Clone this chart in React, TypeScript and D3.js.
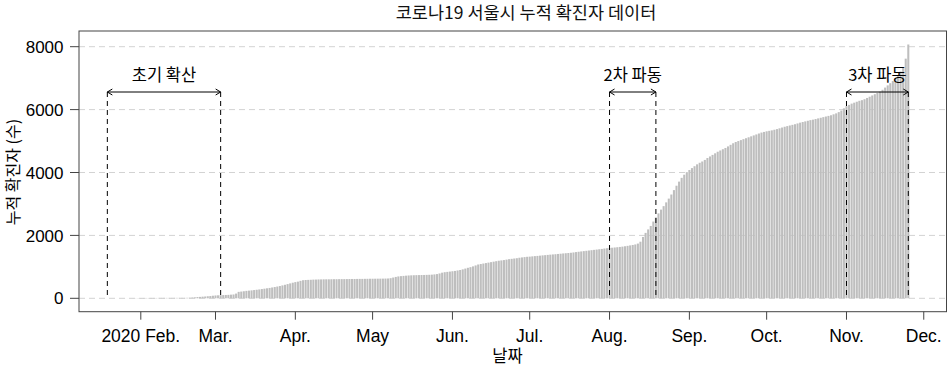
import React from "react";
import * as d3 from "d3";

// 서울시 누적 확진자 (일별, 그림에서 읽은 추정값)
const jan = [0, 0, 0, 0, 0, 1, 1, 1, 1, 1, 3, 5, 7]; // from Jan 19
const feb = [8, 10, 11, 11, 11, 11, 11, 13, 13, 13, 13, 13, 13, 14, 14, 14, 14, 14, 16, 19, 25, 31, 40, 45, 52, 58, 65, 72, 82];
const mar = [90, 95, 99, 103, 106, 110, 116, 122, 150, 205, 214, 224, 236, 244, 252, 262, 272, 282, 294, 306, 318, 330, 344, 358, 374, 390, 410, 430, 452, 474, 496];
const apr = [515, 530, 555, 575, 582, 586, 589, 594, 596, 600, 601, 603, 604, 604, 606, 607, 607, 609, 610, 610, 611, 613, 614, 614, 616, 617, 617, 619, 620, 622];
const may = [622, 623, 624, 625, 626, 628, 630, 640, 660, 680, 695, 705, 712, 720, 726, 730, 733, 736, 738, 740, 742, 745, 748, 752, 760, 770, 790, 815, 830, 840, 850];
const jun = [860, 870, 885, 900, 920, 945, 970, 990, 1015, 1045, 1075, 1090, 1105, 1120, 1135, 1150, 1165, 1180, 1195, 1205, 1215, 1230, 1245, 1255, 1265, 1275, 1290, 1300, 1310, 1320];
const jul = [1325, 1333, 1341, 1348, 1356, 1365, 1372, 1380, 1388, 1395, 1402, 1410, 1418, 1426, 1433, 1440, 1448, 1458, 1470, 1480, 1490, 1500, 1510, 1520, 1530, 1540, 1550, 1560, 1570, 1582, 1592];
const aug = [1600, 1608, 1616, 1624, 1633, 1643, 1655, 1668, 1682, 1696, 1712, 1740, 1800, 1950, 2080, 2190, 2300, 2440, 2570, 2700, 2820, 2930, 3050, 3170, 3300, 3440, 3580, 3710, 3830, 3930, 4010];
const sep = [4080, 4140, 4200, 4260, 4310, 4350, 4400, 4460, 4510, 4560, 4610, 4660, 4700, 4740, 4780, 4830, 4880, 4930, 4970, 5000, 5030, 5060, 5090, 5120, 5150, 5180, 5210, 5240, 5270, 5290];
const oct = [5310, 5325, 5340, 5360, 5380, 5405, 5430, 5455, 5475, 5495, 5515, 5535, 5560, 5585, 5605, 5625, 5645, 5665, 5680, 5700, 5720, 5740, 5760, 5780, 5800, 5820, 5850, 5880, 5920, 5970, 6040];
const nov = [6110, 6150, 6190, 6220, 6250, 6280, 6300, 6330, 6370, 6410, 6450, 6490, 6530, 6570, 6630, 6700, 6770, 6840, 6910, 7000, 7100, 7210, 7340, 7620, 8070];

const months = [
  { m: 0, first: 19, vals: jan },
  { m: 1, first: 1, vals: feb },
  { m: 2, first: 1, vals: mar },
  { m: 3, first: 1, vals: apr },
  { m: 4, first: 1, vals: may },
  { m: 5, first: 1, vals: jun },
  { m: 6, first: 1, vals: jul },
  { m: 7, first: 1, vals: aug },
  { m: 8, first: 1, vals: sep },
  { m: 9, first: 1, vals: oct },
  { m: 10, first: 1, vals: nov },
];

const tickMonths = [1, 2, 3, 4, 5, 6, 7, 8, 9, 10, 11];
const tickLabels = ["2020 Feb.", "Mar.", "Apr.", "May", "Jun.", "Jul.", "Aug.", "Sep.", "Oct.", "Nov.", "Dec."];
const yTicks = [0, 2000, 4000, 6000, 8000];

const waveLabels = ["초기 확산", "2차 파동", "3차 파동"];
const waveStart = ["2020-01-19", "2020-08-01", "2020-11-01"];
const waveEnd = ["2020-03-03", "2020-08-19", "2020-11-25"];

const korean = "'Noto Sans CJK KR', 'Noto Sans', sans-serif";
const latin = "'Liberation Sans', Arial, sans-serif";

export default function App() {
  const width = 950;
  const height = 369;
  const plot = { left: 79, right: 946.5, top: 31, bottom: 311.7 };

  const data = months.flatMap(mo =>
    mo.vals.map((v, i) => ({ date: new Date(Date.UTC(2020, mo.m, mo.first + i)), value: v }))
  );

  const x = d3
    .scaleUtc()
    .domain([new Date(Date.UTC(2020, 0, 8)), new Date(Date.UTC(2020, 11, 9, 20))])
    .range([plot.left, plot.right]);

  const y = d3.scaleLinear().domain([0, 8000]).range([298.3, 46.7]);

  const step = x(new Date(Date.UTC(2020, 1, 2))) - x(new Date(Date.UTC(2020, 1, 1)));
  const barW = step * 0.8;
  const arrowY = 92;

  const parse = d3.utcParse("%Y-%m-%d");

  const arrowHead = (px: number, dir: number) =>
    `M${px + dir * 5},${arrowY - 3} L${px},${arrowY} L${px + dir * 5},${arrowY + 3}`;

  return (
    <svg width={width} height={height} style={{ position: "absolute", left: 0, top: 0, background: "#fff" }}>
      <text x={526} y={19} textAnchor="middle" fontFamily={korean} fontSize={17.5} fill="#111">
        코로나19 서울시 누적 확진자 데이터
      </text>

      {/* grid */}
      {yTicks.map(t => (
        <line key={"g" + t} x1={plot.left} x2={plot.right} y1={y(t)} y2={y(t)}
          stroke="#d3d3d3" strokeDasharray="6,4" />
      ))}

      {/* bars */}
      {data.map((d, i) => (
        <rect key={i} x={x(d.date) - barW / 2} y={y(d.value)} width={barW}
          height={Math.max(0, y(0) - y(d.value))} fill="#bebebe" />
      ))}

      {/* wave markers */}
      {waveLabels.map((lab, i) => {
        const x1 = x(parse(waveStart[i])!);
        const x2 = x(parse(waveEnd[i])!);
        return (
          <g key={lab}>
            <line x1={x1} x2={x1} y1={arrowY} y2={y(0)} stroke="#000" strokeDasharray="5,4" />
            <line x1={x2} x2={x2} y1={arrowY} y2={y(0)} stroke="#000" strokeDasharray="5,4" />
            <line x1={x1} x2={x2} y1={arrowY} y2={arrowY} stroke="#000" />
            <path d={arrowHead(x1, 1)} fill="none" stroke="#000" />
            <path d={arrowHead(x2, -1)} fill="none" stroke="#000" />
            <text x={(x1 + x2) / 2} y={81} textAnchor="middle" fontFamily={korean} fontSize={16.5} fill="#000">
              {lab}
            </text>
          </g>
        );
      })}

      {/* box */}
      <rect x={plot.left} y={plot.top} width={plot.right - plot.left} height={plot.bottom - plot.top}
        fill="none" stroke="#444" />

      {/* y axis */}
      {yTicks.map(t => (
        <g key={"y" + t}>
          <line x1={plot.left - 9} x2={plot.left} y1={y(t)} y2={y(t)} stroke="#444" />
          <text x={63.5} y={y(t)} dy="0.36em" textAnchor="end" fontFamily={latin} fontSize={17} fill="#000">
            {t}
          </text>
        </g>
      ))}
      <text transform={`translate(19,172) rotate(-90)`} textAnchor="middle" fontFamily={korean} fontSize={16} fill="#000">
        누적 확진자 (수)
      </text>

      {/* x axis */}
      {tickMonths.map((m, i) => {
        const px = x(new Date(Date.UTC(2020, m, 1)));
        return (
          <g key={"x" + m}>
            <line x1={px} x2={px} y1={plot.bottom} y2={plot.bottom + 8} stroke="#444" />
            <text x={px} y={342} textAnchor="middle" fontFamily={latin} fontSize={17.5} fill="#000">
              {tickLabels[i]}
            </text>
          </g>
        );
      })}
      <text x={507.5} y={362} textAnchor="middle" fontFamily={korean} fontSize={16.5} fill="#000">
        날짜
      </text>
    </svg>
  );
}
